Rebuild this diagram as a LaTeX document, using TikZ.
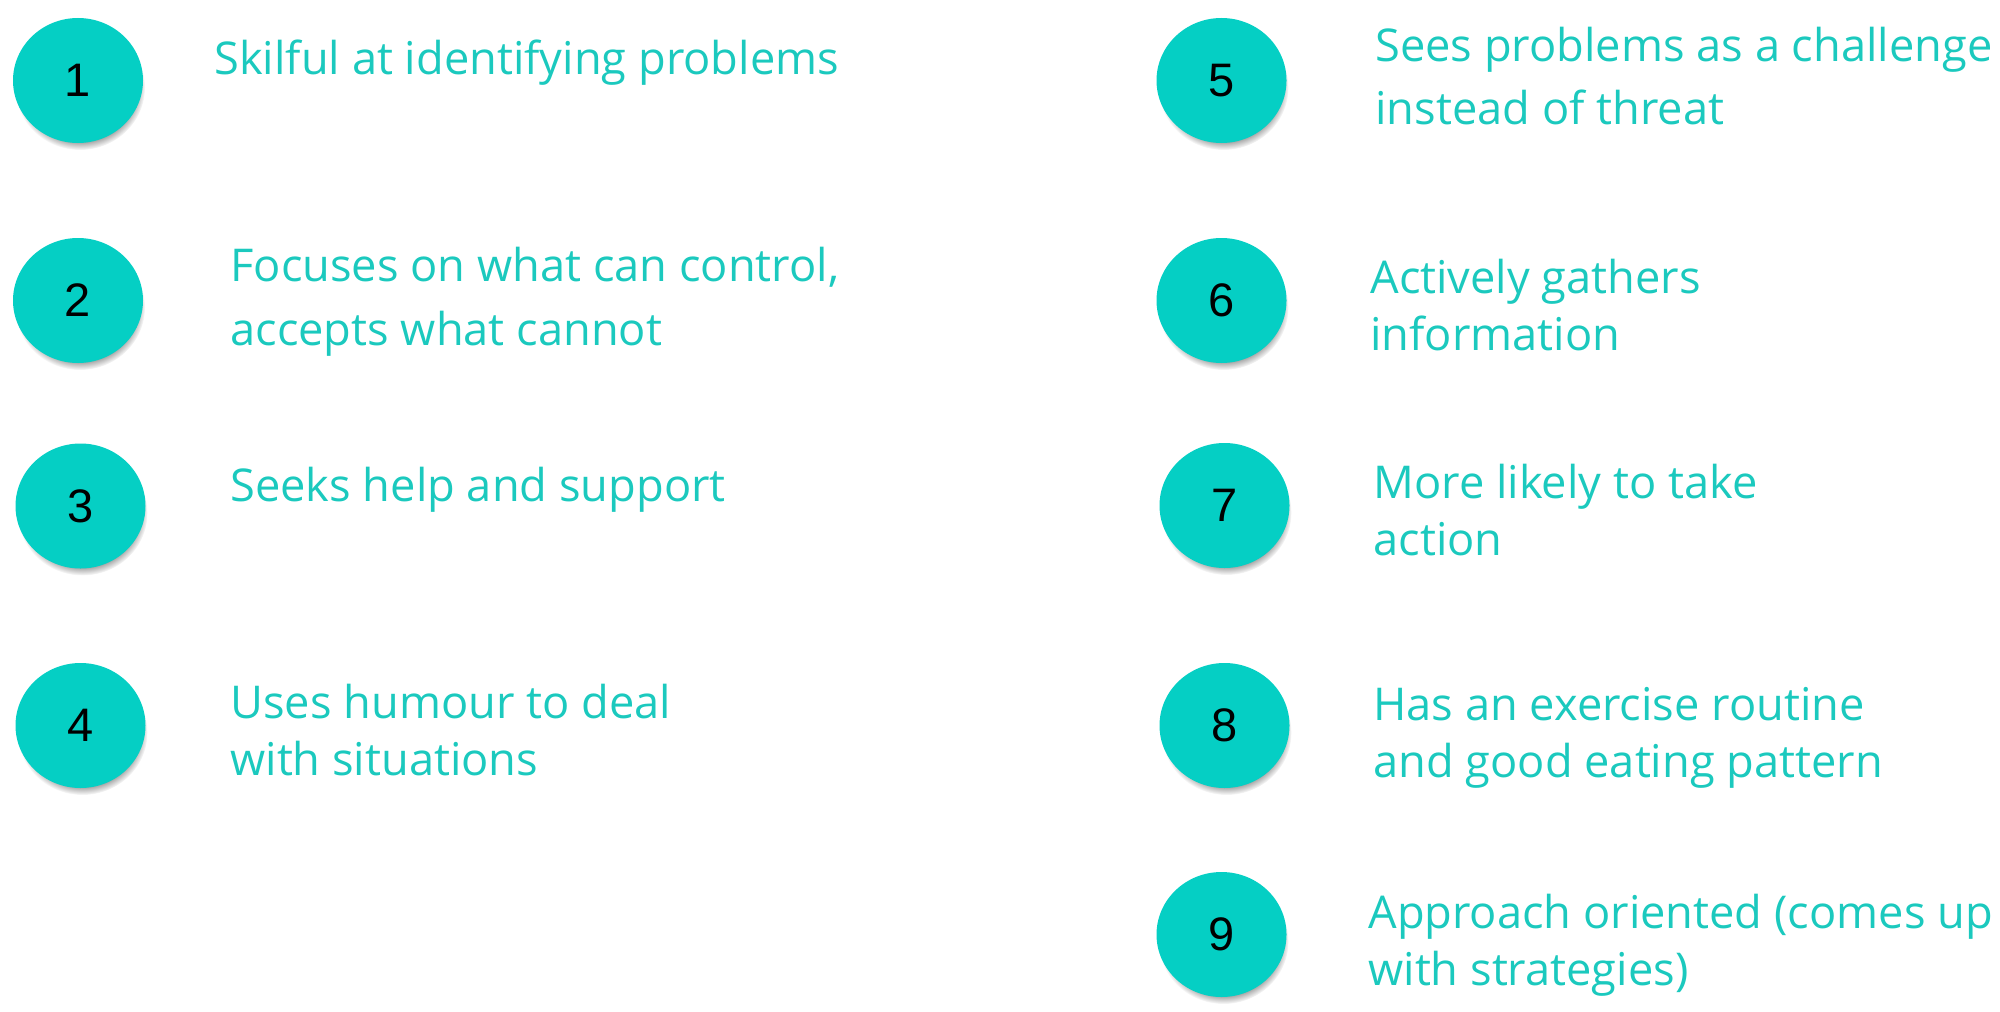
\documentclass[tikz,border=0pt]{standalone}
\usepackage{fontspec}
\setmainfont{Open Sans}[Ligatures={NoCommon}]
\newfontfamily\numfont{Liberation Sans}
\usepackage{xcolor}
\usetikzlibrary{shapes.geometric,shadows}

\definecolor{teal}{HTML}{05CFC4}
\definecolor{tealtext}{HTML}{1BC9BE}

\tikzset{
  numdot/.style={ellipse,fill=teal,minimum width=65pt,minimum height=62.5pt,inner sep=0pt,
    font=\numfont\fontsize{23.5}{26}\selectfont,text=black,
    circular drop shadow={shadow xshift=1pt,shadow yshift=-3.5pt,shadow scale=1.0,opacity=0.8}},
  itemtext/.style={anchor=base west,align=left,inner sep=0pt,text=tealtext,
    font=\fontsize{22.6}{28.5}\selectfont},
  widetext/.style={itemtext,font=\fontsize{22.6}{32}\selectfont}
}

\begin{document}
\begin{tikzpicture}[x=0.5pt,y=0.5pt,yscale=-1,xscale=1]
\useasboundingbox (0,0) rectangle (2000,1011);

%Shape: Circles, left column
\draw (78,80.5) node[numdot] (c1) {1};
\draw (78,300.5) node[numdot] (c2) {2};
\draw (80.5,506) node[numdot] (c3) {3};
\draw (80.5,725.5) node[numdot] (c4) {4};
%Shape: Circles, right column
\draw (1221.5,80.5) node[numdot] (c5) {5};
\draw (1221.5,300.5) node[numdot] (c6) {6};
\draw (1224.5,505.5) node[numdot] (c7) {7};
\draw (1224.5,725.5) node[numdot] (c8) {8};
\draw (1221.5,934.5) node[numdot] (c9) {9};

%base of a two-line text is its last line
% Text Node
\draw (214,75) node[itemtext] (t1) {Skilful at identifying problems};
% Text Node
\draw (230,345) node[widetext] (t2) {Focuses on what can control,\\accepts what cannot};
% Text Node
\draw (230,501) node[itemtext] (t3) {Seeks help and support};
% Text Node
\draw (230,775) node[itemtext] (t4) {Uses humour to deal\\with situations};
% Text Node
\draw (1375,125) node[widetext] (t5) {Sees problems as a challenge\\instead of threat};
% Text Node
\draw (1370,350) node[itemtext] (t6) {Actively gathers\\information};
% Text Node
\draw (1373,555) node[itemtext] (t7) {More likely to take\\action};
% Text Node
\draw (1373,777) node[itemtext] (t8) {Has an exercise routine\\and good eating pattern};
% Text Node
\draw (1368,985) node[itemtext] (t9) {Approach oriented (comes up\\with strategies)};

\end{tikzpicture}
\end{document}
